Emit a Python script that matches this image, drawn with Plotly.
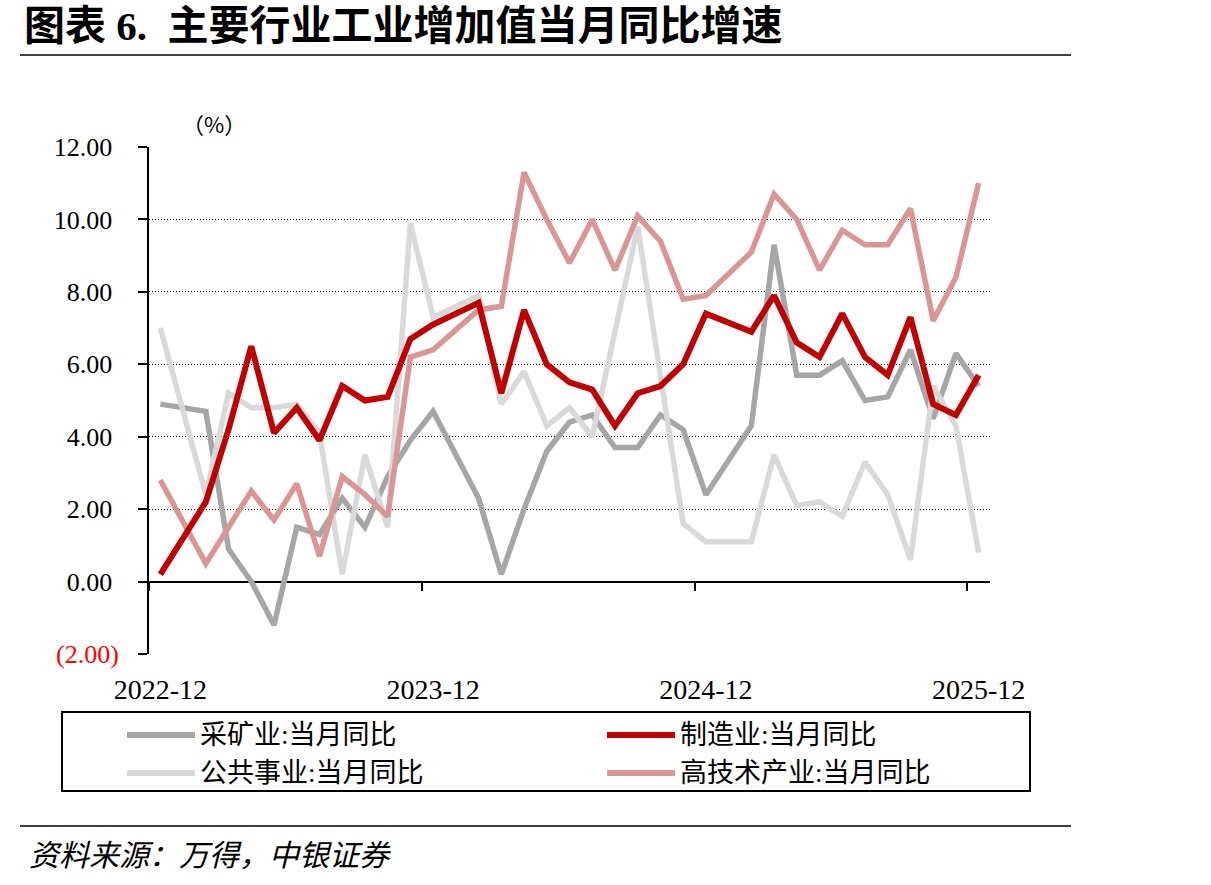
import plotly.graph_objects as go

# ---------------- data ----------------
months = ["2022-12",
          "2023-01", "2023-02", "2023-03", "2023-04", "2023-05", "2023-06",
          "2023-07", "2023-08", "2023-09", "2023-10", "2023-11", "2023-12",
          "2024-01", "2024-02", "2024-03", "2024-04", "2024-05", "2024-06",
          "2024-07", "2024-08", "2024-09", "2024-10", "2024-11", "2024-12",
          "2025-01", "2025-02", "2025-03", "2025-04", "2025-05", "2025-06",
          "2025-07", "2025-08", "2025-09", "2025-10", "2025-11", "2025-12"]

mining = [4.9, None, 4.7, 0.9, 0.0, -1.2, 1.5, 1.3, 2.3, 1.5, 2.9, 3.9, 4.7,
          None, 2.3, 0.2, 2.0, 3.6, 4.4, 4.6, 3.7, 3.7, 4.6, 4.2, 2.4,
          None, 4.3, 9.3, 5.7, 5.7, 6.1, 5.0, 5.1, 6.4, 4.5, 6.3, 5.4]

manufacturing = [0.2, None, 2.2, 4.2, 6.5, 4.1, 4.8, 3.9, 5.4, 5.0, 5.1, 6.7, 7.1,
                 None, 7.7, 5.2, 7.5, 6.0, 5.5, 5.3, 4.3, 5.2, 5.4, 6.0, 7.4,
                 None, 6.9, 7.9, 6.6, 6.2, 7.4, 6.2, 5.7, 7.3, 4.9, 4.6, 5.7]

utilities = [7.0, None, 2.4, 5.2, 4.8, 4.8, 4.9, 4.1, 0.2, 3.5, 1.5, 9.9, 7.3,
             None, 7.9, 4.9, 5.8, 4.3, 4.8, 4.0, 6.9, 9.8, 5.7, 1.6, 1.1,
             None, 1.1, 3.5, 2.1, 2.2, 1.8, 3.3, 2.4, 0.6, 5.4, 4.3, 0.8]

hightech = [2.8, None, 0.5, 1.5, 2.5, 1.7, 2.7, 0.7, 2.9, 2.4, 1.8, 6.2, 6.4,
            None, 7.5, 7.6, 11.3, 10.0, 8.8, 10.0, 8.6, 10.1, 9.4, 7.8, 7.9,
            None, 9.1, 10.7, 10.0, 8.6, 9.7, 9.3, 9.3, 10.3, 7.2, 8.4, 11.0]

series_names = ["采矿业:当月同比", "制造业:当月同比", "公共事业:当月同比", "高技术产业:当月同比"]
series_values = [mining, manufacturing, utilities, hightech]
series_colors = ["#A6A6A6", "#C00000", "#D9D9D9", "#DA9694"]
series_widths = [5.5, 6, 5.5, 5.5]
draw_order = [0, 2, 3, 1]   # manufacturing drawn on top

x_label_months = ["2022-12", "2023-12", "2024-12", "2025-12"]
y_tickvals = [-2, 0, 2, 4, 6, 8, 10, 12]
y_ticktext = ["<span style='color:#FF0000'>(2.00)</span>", "0.00\u00a0", "2.00\u00a0",
              "4.00\u00a0", "6.00\u00a0", "8.00\u00a0", "10.00\u00a0", "12.00\u00a0"]

title_text = "图表 6.\u00a0 主要行业工业增加值当月同比增速"
unit_text = "（%）"
source_text = "资料来源：万得，中银证券"

# ---------------- layout helpers ----------------
W, H = 1211, 885
L, R, T, B = 149, 221, 147, 231
PW, PH = W - L - R, H - T - B

def fx(px):
    return (px - L) / PW

def fy(py):
    return (H - B - py) / PH

SERIF = "Liberation Serif, 'Times New Roman', 'Noto Sans CJK SC', serif"
CJK = "'Liberation Serif', 'Noto Sans CJK SC', sans-serif"
CJK_ONLY = "'Noto Sans CJK SC', sans-serif"

idx = list(range(len(months)))
n = len(months)

fig = go.Figure()
for i in draw_order:
    fig.add_trace(go.Scatter(
        x=idx, y=series_values[i], mode="lines", name=series_names[i],
        line=dict(color=series_colors[i], width=series_widths[i]),
        connectgaps=True, showlegend=False,
    ))

# invisible trace to carry the zero-line axis
fig.add_trace(go.Scatter(x=idx, y=[None] * n, xaxis="x2", yaxis="y",
                         showlegend=False, hoverinfo="skip", mode="lines"))

label_pos = [months.index(m) for m in x_label_months]
boundary_pos = [p - 0.5 for p in label_pos]

fig.update_layout(
    width=W, height=H,
    margin=dict(l=L, r=R, t=T, b=B, pad=0),
    paper_bgcolor="white", plot_bgcolor="white",
    showlegend=False,
    xaxis=dict(
        range=[-0.5, n - 0.5], showgrid=False, zeroline=False, showline=False,
        tickmode="array", tickvals=label_pos, ticktext=x_label_months,
        ticks="", tickfont=dict(family=SERIF, size=28, color="black"),
        ticklabelstandoff=16,
    ),
    xaxis2=dict(
        range=[-0.5, n - 0.5], overlaying="x", anchor="free",
        position=(0 - (-2)) / 14, showgrid=False, zeroline=False,
        showline=True, linecolor="black", linewidth=2,
        tickmode="array", tickvals=boundary_pos, ticks="outside",
        ticklen=8, tickwidth=2, tickcolor="black", showticklabels=False,
        layer="below traces",
    ),
    yaxis=dict(
        range=[-2, 12], tickmode="array", tickvals=y_tickvals, ticktext=y_ticktext,
        showgrid=True, gridcolor="black", gridwidth=1, griddash="1px,2px",
        zeroline=False, showline=True, linecolor="black", linewidth=2,
        ticks="outside", ticklen=9, tickwidth=2, tickcolor="black",
        tickfont=dict(family=SERIF, size=26, color="black"),
        ticklabelstandoff=14,
    ),
)

shapes = []
annotations = []

# title and rule
annotations.append(dict(xref="paper", yref="paper", x=fx(22), y=fy(26),
                        xanchor="left", yanchor="middle", showarrow=False,
                        text="<b>" + title_text + "</b>",
                        font=dict(family=CJK, size=41, color="black")))
shapes.append(dict(type="line", xref="paper", yref="paper",
                   x0=fx(20), x1=fx(1071), y0=fy(55), y1=fy(55),
                   line=dict(color="#404040", width=2)))

# unit label
annotations.append(dict(xref="paper", yref="paper", x=fx(214), y=fy(123),
                        xanchor="center", yanchor="middle", showarrow=False,
                        text=unit_text, font=dict(family=CJK_ONLY, size=22, color="black")))

# legend box
shapes.append(dict(type="rect", xref="paper", yref="paper",
                   x0=fx(62), x1=fx(1030), y0=fy(712), y1=fy(791),
                   line=dict(color="black", width=2), fillcolor="rgba(0,0,0,0)"))
legend_rows = [735, 773]
legend_cols = [(127, 195, 198), (607, 675, 678)]
for k, i in enumerate(range(len(series_names))):
    r, c = divmod(k, 2)
    x0, x1, xt = legend_cols[c]
    yy = legend_rows[r]
    shapes.append(dict(type="line", xref="paper", yref="paper",
                       x0=fx(x0), x1=fx(x1), y0=fy(yy), y1=fy(yy),
                       line=dict(color=series_colors[i], width=6)))
    annotations.append(dict(xref="paper", yref="paper", x=fx(xt), y=fy(yy),
                            xanchor="left", yanchor="middle", showarrow=False,
                            text=series_names[i],
                            font=dict(family=CJK, size=27, color="black")))

# source rule and text
shapes.append(dict(type="line", xref="paper", yref="paper",
                   x0=fx(20), x1=fx(1071), y0=fy(826), y1=fy(826),
                   line=dict(color="#404040", width=2)))
annotations.append(dict(xref="paper", yref="paper", x=fx(27), y=fy(855),
                        xanchor="left", yanchor="middle", showarrow=False,
                        text="<i>" + source_text + "</i>",
                        font=dict(family=CJK, size=30, color="black")))

fig.update_layout(shapes=shapes, annotations=annotations)

fig.write_html("out.html")
